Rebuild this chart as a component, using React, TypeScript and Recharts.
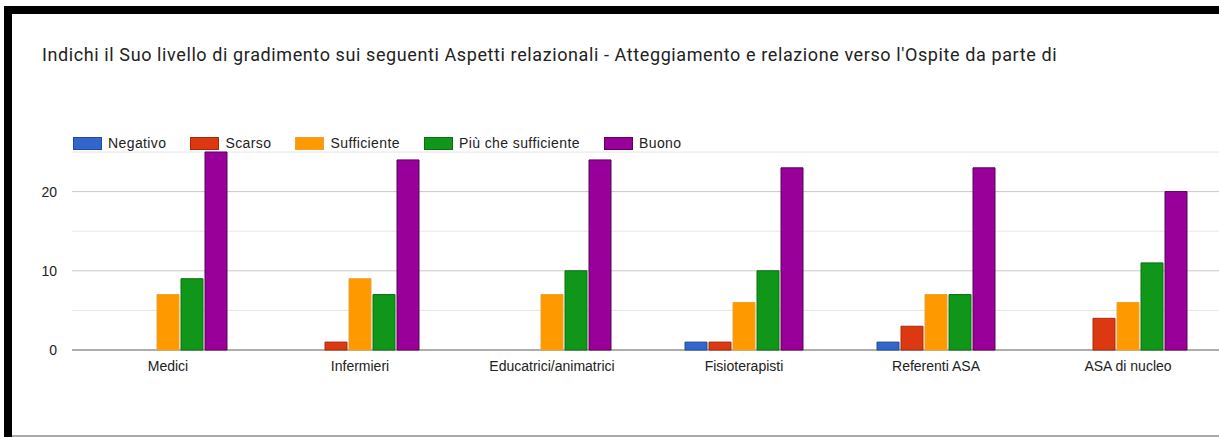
import React from 'react';
import { BarChart, Bar, XAxis, YAxis, CartesianGrid } from 'recharts';

const categories = ['Medici', 'Infermieri', 'Educatrici/animatrici', 'Fisioterapisti', 'Referenti ASA', 'ASA di nucleo'];
const negativo = [0, 0, 0, 1, 1, 0];
const scarso = [0, 1, 0, 1, 3, 4];
const sufficiente = [7, 9, 7, 6, 7, 6];
const piuCheSufficiente = [9, 7, 10, 10, 7, 11];
const buono = [25, 24, 24, 23, 23, 20];

const seriesNames = ['Negativo', 'Scarso', 'Sufficiente', 'Più che sufficiente', 'Buono'];
const seriesKeys = ['negativo', 'scarso', 'sufficiente', 'piu', 'buono'];
const seriesFill = ['#3366cc', '#dc3912', '#ff9900', '#109618', '#990099'];
const seriesStroke = ['#244a99', '#a52a0c', '#f0a030', '#0c6e12', '#5e005e'];

const majorTicks = [0, 10, 20];
const minorTicks = [5, 15, 25];

const title =
  "Indichi il Suo livello di gradimento sui seguenti Aspetti relazionali - Atteggiamento e relazione verso l'Ospite da parte di";

const data = categories.map((name, i) => ({
  name,
  negativo: negativo[i],
  scarso: scarso[i],
  sufficiente: sufficiente[i],
  piu: piuCheSufficiente[i],
  buono: buono[i],
}));

const labelFont = '"Liberation Sans", Arial, sans-serif';

export default function App() {
  return (
    <div
      style={{
        position: 'fixed',
        left: 0,
        top: 0,
        width: 1219,
        height: 437,
        overflow: 'hidden',
        background: '#fff',
      }}
    >
      {/* black frame of the screenshot */}
      <div style={{ position: 'absolute', left: 4, top: 6, width: 1215, height: 8, background: '#000' }} />
      <div style={{ position: 'absolute', left: 4, top: 6, width: 8, height: 431, background: '#000' }} />
      <div style={{ position: 'absolute', left: 12, top: 435, width: 1207, height: 2, background: '#aaa' }} />

      <div
        style={{
          position: 'absolute',
          left: 42,
          top: 44,
          fontFamily: 'Roboto, sans-serif',
          fontSize: 18,
          letterSpacing: 0.6,
          lineHeight: '21px',
          color: '#222',
          whiteSpace: 'nowrap',
        }}
      >
        {title}
      </div>

      <div
        style={{
          position: 'absolute',
          left: 73,
          top: 137,
          display: 'flex',
          alignItems: 'center',
          fontFamily: labelFont,
          fontSize: 14,
          letterSpacing: 0.4,
          color: '#222',
          whiteSpace: 'nowrap',
        }}
      >
        {seriesNames.map((s, i) => (
          <div key={s} style={{ display: 'flex', alignItems: 'center', marginRight: 24 }}>
            <div
              style={{
                width: 27,
                height: 11,
                background: seriesFill[i],
                border: `1px solid ${seriesStroke[i]}`,
                marginRight: 6,
              }}
            />
            <span style={{ lineHeight: '13px' }}>{s}</span>
          </div>
        ))}
      </div>

      <div style={{ position: 'absolute', left: 0, top: 0 }}>
        <BarChart
          width={1224}
          height={437}
          data={data}
          margin={{ top: 152, right: 0, bottom: 57, left: 0 }}
          barSize={22}
          barGap={2}
        >
          <CartesianGrid vertical={false} horizontalValues={minorTicks} stroke="#e6e6e6" />
          <CartesianGrid vertical={false} horizontalValues={majorTicks} stroke="#c8c8c8" />
          <CartesianGrid vertical={false} horizontalValues={[0]} stroke="#777" />
          <XAxis
            dataKey="name"
            height={30}
            axisLine={false}
            tickLine={false}
            tickSize={0}
            tickMargin={11}
            interval={0}
            tick={{ fill: '#222', fontSize: 14, fontFamily: labelFont }}
          />
          <YAxis
            width={72}
            domain={[0, 25]}
            ticks={majorTicks}
            axisLine={false}
            tickLine={false}
            tickSize={0}
            tickMargin={15}
            tick={{ fill: '#222', fontSize: 14, fontFamily: labelFont }}
          />
          {seriesKeys.map((k, i) => (
            <Bar
              key={k}
              dataKey={k}
              name={seriesNames[i]}
              fill={seriesFill[i]}
              stroke={seriesStroke[i]}
              strokeWidth={1}
              isAnimationActive={false}
            />
          ))}
        </BarChart>
      </div>
    </div>
  );
}
